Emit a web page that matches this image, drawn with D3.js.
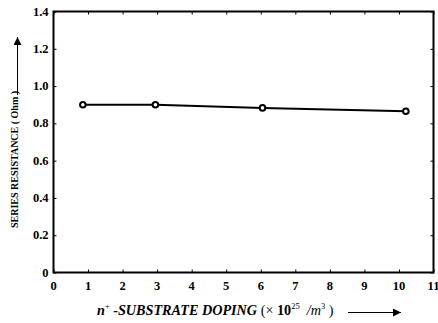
<!DOCTYPE html>
<html><head><meta charset="utf-8">
<script src="https://cdn.jsdelivr.net/npm/d3@7"></script>
<style>body{margin:0;background:#fff}svg{display:block}svg text{font-family:"Liberation Serif","DejaVu Serif",serif}</style>
</head><body>
<svg id="c" width="438" height="323"></svg>
<script>
const doping = [0.85, 2.95, 6.05, 10.2];
const resistance = [0.90, 0.90, 0.883, 0.865];
const xTicks = [0,1,2,3,4,5,6,7,8,9,10,11];
const yTicks = [0,0.2,0.4,0.6,0.8,1.0,1.2,1.4];
const yTickLabels = ["0","0.2","0.4","0.6","0.8","1.0","1.2","1.4"];

const svg = d3.select("#c");
const L=53.5, R=433.5, T=11.5, B=272.5;
const x = d3.scaleLinear().domain([0,11]).range([L,R]);
const y = d3.scaleLinear().domain([0,1.4]).range([B,T]);

const g = svg.append("g");
g.append("g").attr("transform",`translate(0,${B})`).call(d3.axisBottom(x).tickValues(xTicks).tickSize(-3).tickFormat(""));
g.append("g").attr("transform",`translate(0,${T})`).call(d3.axisTop(x).tickValues(xTicks).tickSize(-3).tickFormat(""));
g.append("g").attr("transform",`translate(${L},0)`).call(d3.axisLeft(y).tickValues(yTicks).tickSize(-3).tickFormat(""));
g.append("g").attr("transform",`translate(${R},0)`).call(d3.axisRight(y).tickValues(yTicks).tickSize(-3).tickFormat(""));
g.selectAll(".domain").remove();
g.selectAll(".tick line").attr("stroke","#000").attr("stroke-width",1);

svg.append("rect").attr("x",L).attr("y",T).attr("width",R-L).attr("height",B-T)
  .attr("fill","none").attr("stroke","#000").attr("stroke-width",2);

svg.append("g").selectAll("text").data(xTicks).join("text")
  .attr("x",d=>x(d)).attr("y",B+17).attr("text-anchor","middle")
  .attr("font-weight","bold").attr("font-size",12.5).text(d=>d);
svg.append("g").selectAll("text").data(yTicks).join("text")
  .attr("x",L-5).attr("y",d=>y(d)+4).attr("text-anchor","end")
  .attr("font-weight","bold").attr("font-size",12.5).text((d,i)=>yTickLabels[i]);

const pts = doping.map((d,i)=>[d,resistance[i]]);
svg.append("path").datum(pts).attr("fill","none").attr("stroke","#000").attr("stroke-width",2)
  .attr("d",d3.line().x(d=>x(d[0])).y(d=>y(d[1])));
svg.append("g").selectAll("circle").data(pts).join("circle")
  .attr("cx",d=>x(d[0])).attr("cy",d=>y(d[1])).attr("r",2.8)
  .attr("fill","#fff").attr("stroke","#000").attr("stroke-width",2);

svg.append("defs").append("marker").attr("id","ah").attr("viewBox","0 0 10 10")
  .attr("refX",10).attr("refY",5).attr("markerWidth",8).attr("markerHeight",8)
  .attr("markerUnits","userSpaceOnUse").attr("orient","auto")
  .append("path").attr("d","M0,0L10,5L0,10Z").attr("fill","#000");

svg.append("text").attr("transform","translate(18,228) rotate(-90)")
  .attr("font-weight","bold").attr("font-size",10)
  .attr("text-anchor","start").text("SERIES RESISTANCE ( Ohm )");
svg.append("line").attr("x1",17.5).attr("x2",17.5).attr("y1",95).attr("y2",37)
  .attr("stroke","#000").attr("stroke-width",1).attr("marker-end","url(#ah)");

const xt = svg.append("text").attr("x",97).attr("y",315).attr("font-size",14.2);
xt.append("tspan").attr("font-weight","bold").attr("font-style","italic").text("n");
xt.append("tspan").attr("font-size",8.5).attr("dy",-6).text("+");
xt.append("tspan").attr("dy",6).attr("font-weight","bold").attr("font-style","italic").text(" -SUBSTRATE DOPING");
xt.append("tspan").text(" (× ");
xt.append("tspan").attr("font-weight","bold").text("10");
xt.append("tspan").attr("font-size",8.5).attr("dy",-6).text("25");
xt.append("tspan").attr("dy",6).attr("font-style","italic").text("\u00a0\u00a0/m");
xt.append("tspan").attr("font-size",8.5).attr("dy",-6).text("3");
xt.append("tspan").attr("dy",6).text(" )");
svg.append("line").attr("x1",348).attr("x2",401).attr("y1",312.5).attr("y2",312.5)
  .attr("stroke","#000").attr("stroke-width",1).attr("marker-end","url(#ah)");
</script>
</body></html>
